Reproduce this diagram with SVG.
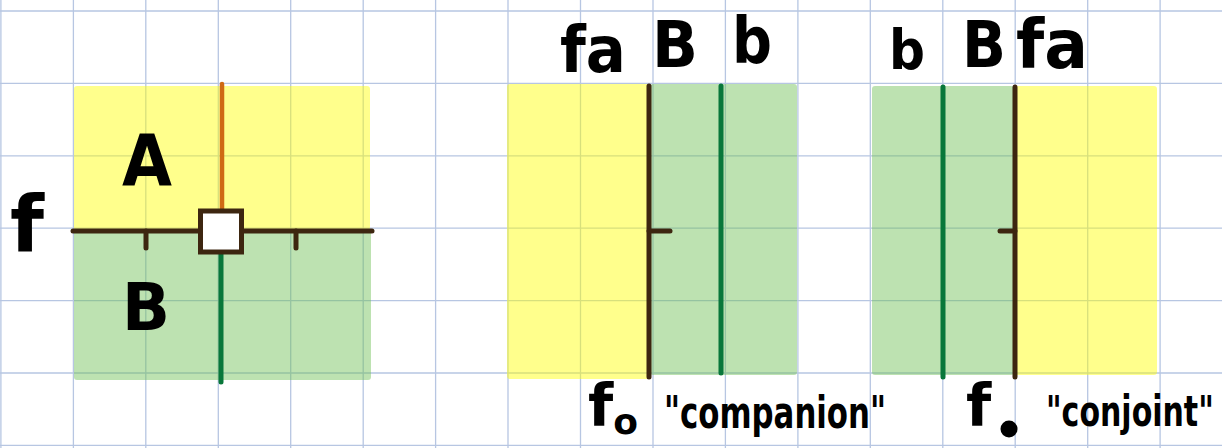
<svg xmlns="http://www.w3.org/2000/svg" width="1222" height="448" viewBox="0 0 1222 448">
<style>
.grid{stroke:#b7c6e2;stroke-width:1.3;fill:none}
.yel{fill:#ffff00;fill-opacity:0.45}
.grn{fill:#6dbf52;fill-opacity:0.45}
.brown{stroke:#3d2610;stroke-width:5;stroke-linecap:round;fill:none}
.orange{stroke:#cf6a14;stroke-width:4.5;stroke-linecap:round;fill:none}
.gline{stroke:#08773a;stroke-width:5;stroke-linecap:round;fill:none}
.hand{font-family:"DejaVu Sans",sans-serif;font-weight:bold;fill:#000}
</style>
<rect width="1222" height="448" fill="#ffffff"/>
<g id="grid">
<path class="grid" d="M0.9 0V448M73.4 0V448M145.8 0V448M218.3 0V448M290.7 0V448M363.2 0V448M435.6 0V448M508 0V448M580.5 0V448M653 0V448M725.4 0V448M797.9 0V448M870.3 0V448M942.8 0V448M1015.2 0V448M1087.7 0V448M1160.1 0V448"/>
<path class="grid" d="M0 11H1222M0 83.4H1222M0 155.8H1222M0 228.2H1222M0 300.6H1222M0 373H1222M0 445.4H1222"/>
</g>
<g id="panel-left">
<rect class="yel" x="74" y="86" width="296" height="144" rx="3"/>
<rect class="grn" x="74" y="230" width="297" height="150" rx="3"/>
<line class="orange" x1="222" y1="84" x2="222" y2="212"/>
<line class="gline" x1="221" y1="252" x2="221" y2="382"/>
<line class="brown" x1="73" y1="231" x2="372" y2="231"/>
<line class="brown" x1="146" y1="231" x2="146" y2="248"/>
<line class="brown" x1="296" y1="231" x2="296" y2="248"/>
<rect x="200.5" y="211" width="41" height="41" fill="#ffffff" stroke="#3d2610" stroke-width="5"/>
<text class="hand" x="122" y="185" font-size="72" textLength="50" lengthAdjust="spacingAndGlyphs">A</text>
<text class="hand" x="122" y="330" font-size="66" textLength="48" lengthAdjust="spacingAndGlyphs">B</text>
<text class="hand" x="10" y="252" font-size="78" textLength="34" lengthAdjust="spacingAndGlyphs">f</text>
</g>
<g id="panel-companion">
<rect class="yel" x="507" y="84" width="143" height="295" rx="3"/>
<rect class="grn" x="650" y="84" width="147" height="291" rx="3"/>
<line class="brown" x1="649" y1="86" x2="649" y2="377"/>
<line class="brown" x1="649" y1="231" x2="670" y2="231"/>
<line class="gline" x1="721" y1="86" x2="721" y2="373"/>
<text class="hand" x="560" y="72" font-size="64" textLength="66" lengthAdjust="spacingAndGlyphs">fa</text>
<text class="hand" x="652" y="67" font-size="64" textLength="46" lengthAdjust="spacingAndGlyphs">B</text>
<text class="hand" x="732" y="63" font-size="64" textLength="40" lengthAdjust="spacingAndGlyphs">b</text>
<text class="hand" x="588" y="426" font-size="58">f<tspan font-size="36" dy="8">o</tspan></text>
<text class="hand" x="664" y="428" font-size="44" textLength="222" lengthAdjust="spacingAndGlyphs">"companion"</text>
</g>
<g id="panel-conjoint">
<rect class="grn" x="872" y="86" width="142" height="289" rx="3"/>
<rect class="yel" x="1014" y="86" width="143" height="289" rx="3"/>
<line class="gline" x1="943" y1="87" x2="943" y2="377"/>
<line class="brown" x1="1015" y1="87" x2="1015" y2="377"/>
<line class="brown" x1="1000" y1="231" x2="1015" y2="231"/>
<text class="hand" x="889" y="69" font-size="56" textLength="36" lengthAdjust="spacingAndGlyphs">b</text>
<text class="hand" x="962" y="67" font-size="64" textLength="44" lengthAdjust="spacingAndGlyphs">B</text>
<text class="hand" x="1016" y="68" font-size="68" textLength="72" lengthAdjust="spacingAndGlyphs">fa</text>
<text class="hand" x="966" y="426" font-size="58">f</text>
<circle cx="1009" cy="429" r="8.5" fill="#000"/>
<text class="hand" transform="translate(1046,426) scale(1,1.4)" x="0" y="0" font-size="30">"conjoint"</text>
</g>
</svg>
